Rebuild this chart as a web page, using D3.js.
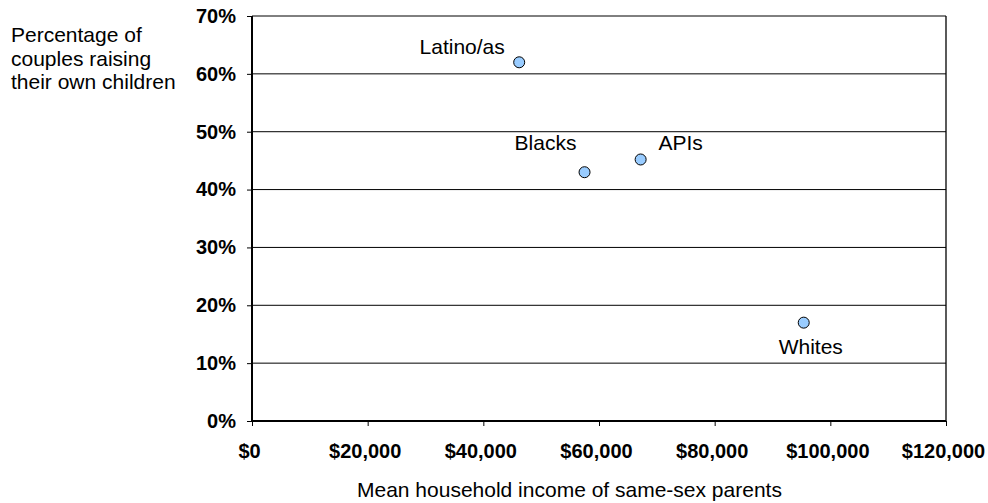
<!DOCTYPE html>
<html>
<head>
<meta charset="utf-8">
<script src="https://cdn.jsdelivr.net/npm/d3@7"></script>
<style>
  body { margin: 0; background: #fff; }
  svg { display: block; font-family: "Liberation Sans", Arial, sans-serif; }
</style>
</head>
<body>
<div id="chart"></div>
<script>
// Data
const groups = ['Latino/as', 'Blacks', 'APIs', 'Whites'];
const incomes = [46200, 57500, 67200, 95400];
const shares = [0.62, 0.43, 0.452, 0.17];
const xTicks = [0, 20000, 40000, 60000, 80000, 100000, 120000];
const yTicks = [0, 0.1, 0.2, 0.3, 0.4, 0.5, 0.6, 0.7];

const width = 988;
const height = 503;
const plot = { left: 252, right: 946, top: 16, bottom: 421 };

const xScale = d3.scaleLinear().domain([0, 120000]).range([plot.left, plot.right]);
const yScale = d3.scaleLinear().domain([0, 0.7]).range([plot.bottom, plot.top]);

const svg = d3.select('#chart')
  .append('svg')
  .attr('width', width)
  .attr('height', height);

// Gridlines
svg.append('g')
  .selectAll('line')
  .data(yTicks.filter(d => d > 0))
  .join('line')
  .attr('x1', plot.left)
  .attr('x2', plot.right)
  .attr('y1', d => yScale(d))
  .attr('y2', d => yScale(d))
  .attr('stroke', '#000')
  .attr('stroke-width', 1);

// Right border
svg.append('line')
  .attr('x1', plot.right).attr('x2', plot.right)
  .attr('y1', plot.top).attr('y2', plot.bottom)
  .attr('stroke', '#000').attr('stroke-width', 1.3);

// Axes
const xAxis = d3.axisBottom(xScale)
  .tickValues(xTicks)
  .tickSize(5)
  .tickFormat(d => '$' + d3.format(',')(d));

const yAxis = d3.axisLeft(yScale)
  .tickValues(yTicks)
  .tickSize(5)
  .tickPadding(11)
  .tickFormat(d3.format('.0%'));

const gx = svg.append('g')
  .attr('transform', `translate(0, ${plot.bottom})`)
  .call(xAxis);

const gy = svg.append('g')
  .attr('transform', `translate(${plot.left}, 0)`)
  .call(yAxis);

[gx, gy].forEach(g => {
  g.select('.domain').attr('stroke', '#000').attr('stroke-width', 2);
  g.selectAll('.tick line').attr('stroke', '#000').attr('stroke-width', 1);
  g.selectAll('.tick text')
    .attr('fill', '#000')
    .style('font-size', '20px')
    .style('font-weight', 'bold')
    .style('font-family', '"Liberation Sans", Arial, sans-serif');
});
gx.selectAll('.tick text').attr('y', 37).attr('dy', 0).attr('dx', -3);
gx.select('.domain').attr('d', `M${plot.left},0H${plot.right}`);
gy.select('.domain').attr('d', `M0,${plot.bottom}V${plot.top}`);

// Points
const labelOffsets = {
  'Latino/as': { dx: -57, dy: -8 },
  'Blacks': { dx: -39, dy: -22 },
  'APIs': { dx: 40, dy: -9 },
  'Whites': { dx: 7, dy: 31 }
};

const pts = groups.map((g, i) => ({ name: g, income: incomes[i], share: shares[i] }));

svg.append('g')
  .selectAll('circle')
  .data(pts)
  .join('circle')
  .attr('cx', d => xScale(d.income))
  .attr('cy', d => yScale(d.share))
  .attr('r', 5.5)
  .attr('fill', '#99ccff')
  .attr('stroke', '#000')
  .attr('stroke-width', 1);

svg.append('g')
  .selectAll('text')
  .data(pts)
  .join('text')
  .attr('x', d => xScale(d.income) + labelOffsets[d.name].dx)
  .attr('y', d => yScale(d.share) + labelOffsets[d.name].dy)
  .attr('text-anchor', 'middle')
  .style('font-size', '21px')
  .text(d => d.name);

// Axis titles
svg.append('text')
  .attr('x', 357)
  .attr('y', 497)
  .style('font-size', '21px')
  .text('Mean household income of same-sex parents');

const yTitle = svg.append('text')
  .style('font-size', '21px');
['Percentage of', 'couples raising', 'their own children'].forEach((line, i) => {
  yTitle.append('tspan')
    .attr('x', 11)
    .attr('y', 42 + i * 23.5)
    .text(line);
});
</script>
</body>
</html>
